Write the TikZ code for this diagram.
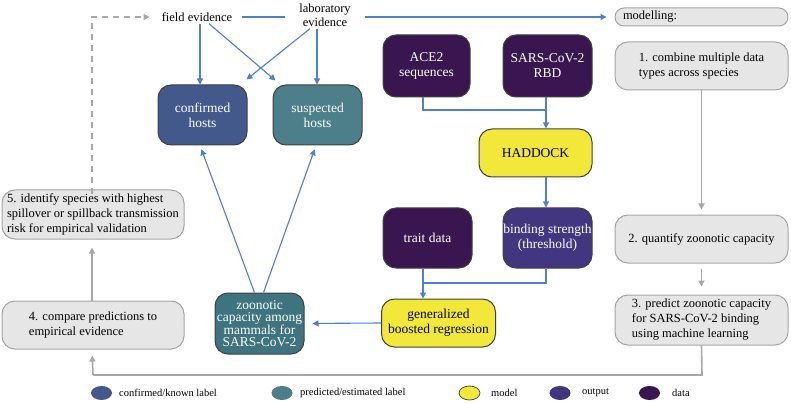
\documentclass[tikz,border=0pt]{standalone}
\usepackage{fontspec}
\setmainfont{Liberation Serif}
\usetikzlibrary{arrows.meta,shapes.geometric,calc}
\definecolor{confc}{HTML}{43598B}
\definecolor{suspc}{HTML}{4C7F89}
\definecolor{zoonc}{HTML}{3D7480}
\definecolor{datac}{HTML}{3A1650}
\definecolor{outc}{HTML}{433680}
\definecolor{yelc}{HTML}{F2E83A}
\definecolor{bluea}{HTML}{4F7FD0}
\definecolor{grayf}{HTML}{E6E6E6}
\definecolor{grayb}{HTML}{A5A5A5}
\definecolor{graya}{HTML}{A8A8A8}
\tikzset{
  cbox/.style={draw=black!75, line width=1pt, rounded corners=13pt, align=center,
    text=white, font=\fontsize{13.5}{15}\selectfont, inner sep=0pt},
  gbox/.style={draw=grayb, fill=grayf, line width=1pt, rounded corners=13pt, align=left,
    text=black, font=\fontsize{12.5}{15}\selectfont, inner sep=0pt},
  plain/.style={font=\fontsize{12.5}{15}\selectfont, align=center, inner sep=2pt},
  barr/.style={draw=bluea, line width=1.1pt, -{Triangle[length=6pt,width=6pt]}},
  bline/.style={draw=bluea, line width=1.1pt},
  garr/.style={draw=graya, line width=1.6pt, -{Triangle[length=6pt,width=6pt]}},
  gline/.style={draw=graya, line width=1.6pt},
  leg/.style={ellipse, minimum width=21pt, minimum height=14pt, inner sep=0pt},
  legt/.style={font=\fontsize{10.5}{12}\selectfont, anchor=west, inner sep=0pt},
}
\begin{document}
\begin{tikzpicture}[x=1pt,y=-1pt]
\useasboundingbox (0,0) rectangle (791,403);
% top texts
\node[plain] (field) at (197,17) {field evidence};
\node[plain] (lab) at (325,15) {laboratory\\[-1pt]evidence};
\node[gbox, minimum width=173pt, minimum height=18pt, rounded corners=9pt, text width=157pt, inner xsep=8pt] (model) at (701.5,17) {modelling:};
% hosts
\node[cbox, fill=confc, minimum width=89pt, minimum height=60pt] (conf) at (202.5,115) {confirmed\\hosts};
\node[cbox, fill=suspc, minimum width=89pt, minimum height=60pt] (susp) at (317.5,115) {suspected\\hosts};
% data
\node[cbox, fill=datac, minimum width=87pt, minimum height=62pt] (ace) at (426.5,66) {ACE2\\sequences};
\node[cbox, fill=datac, minimum width=89pt, minimum height=62pt] (rbd) at (547.5,66) {SARS-CoV-2\\RBD};
\node[cbox, fill=yelc, text=black, minimum width=113pt, minimum height=48pt] (had) at (535.5,153) {HADDOCK};
\node[cbox, fill=datac, minimum width=89pt, minimum height=60pt] (trait) at (427.5,238) {trait data};
\node[cbox, fill=outc, minimum width=89pt, minimum height=60pt] (bind) at (547.5,238) {binding strength\\(threshold)};
\node[cbox, fill=yelc, text=black, minimum width=114pt, minimum height=48pt] (gbr) at (438.5,323) {generalized\\boosted regression};
\node[cbox, fill=zoonc, minimum width=89pt, minimum height=61pt, font=\fontsize{13.5}{12.5}\selectfont] (zoon) at (259.5,323.5) {zoonotic\\capacity among\\mammals for\\SARS-CoV-2};
% gray steps
\node[gbox, minimum width=173pt, minimum height=48pt] (s1) at (701.5,66) {1. combine multiple data\\types across species};
\node[gbox, minimum width=173pt, minimum height=48pt, align=center] (s2) at (701.5,239) {2. quantify zoonotic capacity};
\node[gbox, minimum width=173pt, minimum height=50pt] (s3) at (701.5,320) {3. predict zoonotic capacity\\for SARS-CoV-2 binding\\using machine learning};
\node[gbox, minimum width=182pt, minimum height=48pt] (s4) at (93,325) {4. compare predictions to\\empirical evidence};
\node[gbox, minimum width=182pt, minimum height=49pt] (s5) at (93,214.5) {5. identify species with highest\\spillover or spillback transmission\\risk for empirical validation};
% coordinates
\coordinate (j1) at (546,110);
\coordinate (j2) at (423,283);
\coordinate (c1) at (702,375);
% blue connectors
\draw[bline, shorten <=8pt, shorten >=12pt] (field.east) -- (lab.west |- field.east);
\draw[barr, shorten <=12pt, shorten >=8pt] (lab.east |- field.east) -- (model.west);
\draw[barr] ([xshift=3pt]field.south) -- ([xshift=-2.5pt]conf.north);
\draw[barr] ([xshift=12pt]field.south) -- ([shift={(3pt,4pt)}]susp.north west);
\draw[barr] ([xshift=-15pt]lab.south) -- ([shift={(-1pt,5pt)}]conf.north east);
\draw[barr] ([xshift=-8pt]lab.south) -- ([xshift=-0.5pt]susp.north);
\draw[barr, shorten >=4pt] ([xshift=-5pt]zoon.north) -- ([xshift=-2.5pt]conf.south);
\draw[barr, shorten >=4pt] ([xshift=4pt]zoon.north) -- ([xshift=-1.5pt]susp.south);
\draw[bline] ([xshift=-3.5pt]ace.south) |- (j1);
\draw[barr] ([xshift=-1.5pt]rbd.south) -- (j1) -- (j1 |- had.north);
\draw[barr] (j1 |- had.south) -- (j1 |- bind.north);
\draw[bline] ([xshift=-1.5pt]bind.south) |- (j2);
\draw[barr] ([xshift=-4.5pt]trait.south) -- (j2) -- (j2 |- gbr.north);
\draw[barr, shorten >=8pt] (gbr.west) -- (zoon.east);
% gray connectors
\draw[garr, shorten >=5pt] (s1.south) -- (s2.north);
\draw[garr, shorten <=5pt, shorten >=8pt] (s2.south) -- (s3.north);
\draw[gline] (s3.south) -- (c1) -- (c1 -| s4.south);
\draw[garr, shorten >=6pt] (c1 -| s4.south) -- ([xshift=-1pt]s4.south);
\draw[garr, shorten >=8pt] ([xshift=-1pt]s4.north) -- ([xshift=-1pt]s5.south);
\draw[gline, dashed, dash pattern=on 6pt off 5pt, -{Triangle[length=6pt,width=6pt]}, shorten >=10pt]
  ([shift={(-1pt,-5pt)}]s5.north) |- (field.west);
% legend
\node[leg, fill=confc] (l1) at (101.5,393) {};
\node[legt] (t1) at (119,393) {confirmed/known label};
\node[leg, fill=suspc] (l2) at (282,393) {};
\node[legt] (t2) at (300,393) {predicted/estimated label};
\node[leg, fill=yelc, draw=black!70, line width=0.8pt] (l3) at (469.5,393) {};
\node[legt] (t3) at (491,393) {model};
\node[leg, fill=outc] (l4) at (560,393) {};
\node[legt] (t4) at (582,393) {output};
\node[leg, fill=datac] (l5) at (649.5,393) {};
\node[legt] (t5) at (672,393) {data};
\end{tikzpicture}
\end{document}
